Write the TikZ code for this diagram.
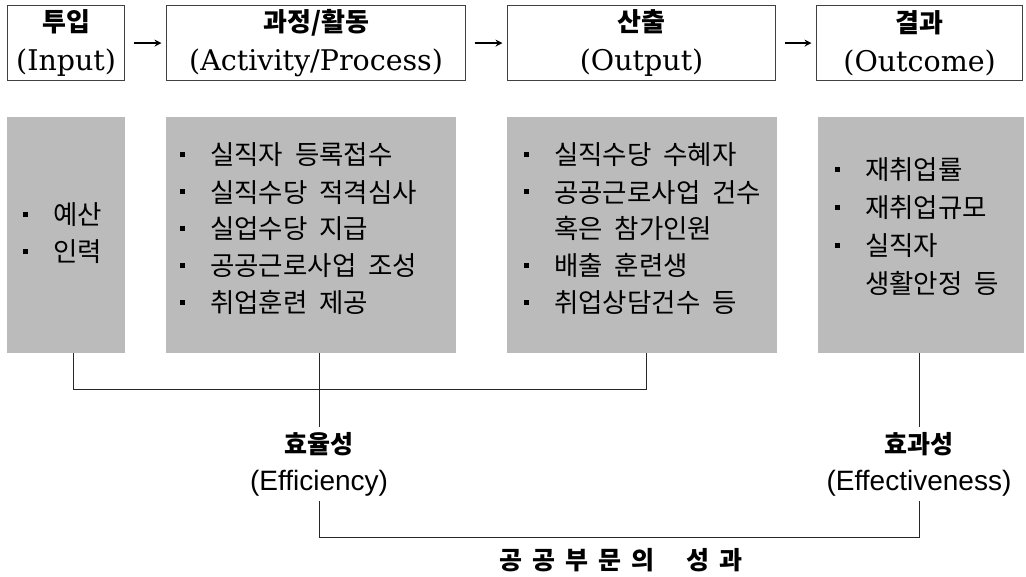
\documentclass[tikz,border=0pt]{standalone}
\usepackage{fontspec}
\setmainfont{DejaVu Serif}
\newfontfamily\kr{Noto Sans CJK KR}
\newfontfamily\krsp[WordSpace=2]{Noto Sans CJK KR}
\newfontfamily\krtitle[LetterSpace=40,WordSpace=2]{Noto Sans CJK KR}
\newfontfamily\latsans{Liberation Sans}
\newfontfamily\latserif{DejaVu Serif}
\usetikzlibrary{arrows.meta}

\definecolor{boxgrey}{HTML}{BBBBBB}

% bullet square followed by the item text; \cont indents a wrapped line
\newcommand{\bul}{\makebox[30pt][l]{\rule[8pt]{5pt}{5pt}}}
\newcommand{\cont}{\hspace*{30pt}}
% two-line heading of a stage: Korean name over English name
\newcommand{\stagetitle}[2]{{\kr\bfseries\fontsize{26}{39}\selectfont #1}\\{\latserif\fontsize{28.5}{39}\selectfont #2}}
% two-line measure label: Korean over English
\newcommand{\measure}[2]{{\kr\bfseries\fontsize{25}{37}\selectfont #1}\\{\latsans\fontsize{28}{37}\selectfont #2}}

\begin{document}
\begin{tikzpicture}[x=1pt,y=-1pt,
  stagebox/.style={draw=black!75, line width=1.2pt, anchor=north west,
    inner sep=0pt, align=center, minimum height=75pt,
    font=\fontsize{27}{39}\selectfont},
  greybox/.style={fill=boxgrey, draw=none, anchor=north west, inner sep=0pt,
    minimum height=236pt},
  % anchored at the baseline of the last line
  itemtext/.style={anchor=base west, align=left, inner sep=0pt,
    font=\krsp\fontsize{26.5}{37}\selectfont},
  measurelabel/.style={align=center, inner xsep=0pt, inner ysep=5pt,
    font=\fontsize{26}{37}\selectfont},
  link/.style={draw=black!85, line width=1pt},
  flow/.style={line width=1.2pt, -{Stealth[length=7pt,width=7pt]},
    shorten <=8.5pt, shorten >=4.5pt},
]
\useasboundingbox (0,0) rectangle (1026,577);

% stage headings
\node[stagebox, minimum width=117pt] (s1) at (7,5)   {\stagetitle{투입}{(Input)}};
\node[stagebox, minimum width=299pt] (s2) at (166,5) {\stagetitle{과정/활동}{(Activity/Process)}};
\node[stagebox, minimum width=268pt] (s3) at (507,5) {\stagetitle{산출}{(Output)}};
\node[stagebox, minimum width=206pt] (s4) at (816,5) {\stagetitle{결과}{(Outcome)}};

\draw[flow] (s1.east) -- (s2.west);
\draw[flow] (s2.east) -- (s3.west);
\draw[flow] (s3.east) -- (s4.west);

% grey detail panels
\node[greybox, minimum width=118pt] (gA) at (7,117)   {};
\node[greybox, minimum width=290pt] (gB) at (166,117) {};
\node[greybox, minimum width=270pt] (gC) at (507,117) {};
\node[greybox, minimum width=206pt] (gD) at (818,117) {};

\node[itemtext] (tA) at (23,262) {\bul 예산\\\bul 인력};
\node[itemtext] (tB) at (180,313) {\bul 실직자 등록접수\\\bul 실직수당 적격심사\\\bul 실업수당 지급\\\bul 공공근로사업 조성\\\bul 취업훈련 제공};
\node[itemtext] (tC) at (524,313) {\bul 실직수당 수혜자\\\bul 공공근로사업 건수\\\cont 혹은 참가인원\\\bul 배출 훈련생\\\bul 취업상담건수 등};
\node[itemtext, font=\krsp\fontsize{26.5}{38}\selectfont] (tD) at (835,294) {\bul 재취업률\\\bul 재취업규모\\\bul 실직자\\\cont 생활안정 등};

% performance measures
\node[measurelabel] (eff)  at (319,464) {\measure{효율성}{(Efficiency)}};
\node[measurelabel] (effv) at (919,464) {\measure{효과성}{(Effectiveness)}};
\node[font=\krtitle\bfseries\fontsize{25}{30}\selectfont] (perf) at (621,560) {공공부문의 성과};

% brackets joining panels to measures
\draw[link] ([xshift=7pt]gA.south) -- ++(0,36) -| ([xshift=4pt]gC.south);
\draw[link] (gB.south -| eff.north) -- (eff.north);
\draw[link] (gD.south -| effv.north) -- (effv.north);
\draw[link] (eff.south) -- ++(0,36) -| (effv.south);
\end{tikzpicture}
\end{document}
